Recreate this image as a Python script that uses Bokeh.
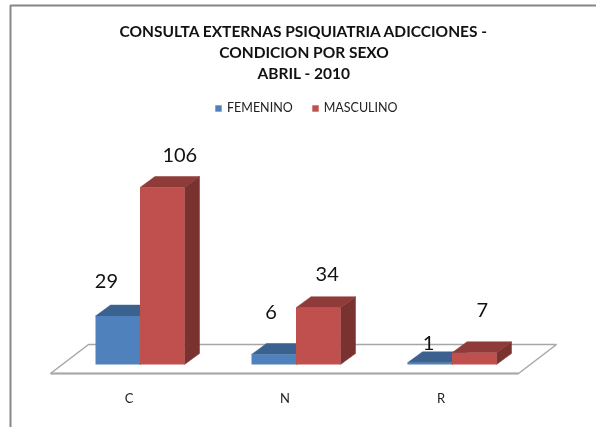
from bokeh.plotting import figure
from bokeh.models import Range1d, LinearAxis, FixedTicker, Legend, LegendItem
from bokeh.core.properties import value
from bokeh.embed import file_html
from bokeh.resources import INLINE

# data
categories = ["C", "N", "R"]
femenino = [29, 6, 1]
masculino = [106, 34, 7]
title_lines = ["CONSULTA EXTERNAS PSIQUIATRIA ADICCIONES -", "CONDICION POR SEXO", "ABRIL - 2010"]

# label placement relative to the category centre (category units) and above the bar (px)
fem_label_x = [-0.215, -0.16, -0.15]
fem_label_gap = [35, 42, 20]
mas_label_x = [0.255, 0.2, 0.195]
mas_label_gap = [32, 34, 43]

W, H = 596, 427
X0, SX = 139.5, 156.0     # px of first category, px per category
Y0, SY = 364.0, 1.67      # px of value 0, px per value
BAR = 44.5 / SX
DX, DY = 15 / SX, 11 / SY

def fx(px): return (px - X0) / SX
def fy(py): return (Y0 - py) / SY

p = figure(width=W, height=H, output_backend="svg", toolbar_location=None,
           x_range=Range1d(fx(0), fx(W)), y_range=Range1d(fy(H), fy(0)),
           min_border=0, min_border_left=0, min_border_right=0, min_border_top=0, min_border_bottom=0,
           outline_line_color=None, background_fill_color="white", border_fill_color="white")
p.styles = {"position": "fixed", "left": "0px", "top": "0px"}
p.axis.visible = False
p.grid.visible = False

# chart frame
p.line([fx(10), fx(10), fx(W)], [fy(H), fy(5), fy(5)], line_color="#868686", line_width=2)

# floor
fl_x = [fx(50), fx(518), fx(556), fx(88), fx(50)]
fl_y = [fy(373), fy(373), fy(344), fy(344), fy(373)]
p.patch(fl_x, fl_y, fill_color="white", line_color="#A6A6A6", line_width=1.5)
p.line(fl_x[:2], fl_y[:2], line_color="#ABABAB", line_width=2)

series = [("FEMENINO", femenino, -BAR, "#4F81BD", "#3B618F", "#33557E"),
          ("MASCULINO", masculino, 0.0, "#C0504D", "#8E3B39", "#7A3230")]

items = []
for name, vals, off, front, top, side in series:
    for i, v in enumerate(vals):
        l, r = i + off, i + off + BAR
        p.patch([r, r + DX, r + DX, r], [0, DY, v + DY, v], fill_color=side, line_color=side, line_width=0.5)
        p.patch([l, r, r + DX, l + DX], [v, v, v + DY, v + DY], fill_color=top, line_color=top, line_width=0.5)
    front_r = p.quad(left=[i + off for i in range(3)], right=[i + off + BAR for i in range(3)],
                     bottom=[0, 0, 0], top=vals, fill_color=front, line_color=None)
    items.append(LegendItem(label=name, renderers=[front_r]))

# data labels
lab_x = [i + d for i, d in enumerate(fem_label_x)] + [i + d for i, d in enumerate(mas_label_x)]
lab_y = [v + g / SY for v, g in zip(femenino, fem_label_gap)] + [v + g / SY for v, g in zip(masculino, mas_label_gap)]
p.text(lab_x, lab_y, text=[str(v) for v in femenino + masculino], text_font=value("Lato"),
       text_font_size="20px", text_color="#111111", text_align="center", text_baseline="middle")

# title
p.text([fx(303.5)] * 3, [fy(30), fy(51), fy(72)], text=title_lines, text_font=value("Lato"),
       text_font_style="bold", text_font_size="15.5px", text_color="#111111",
       text_align="center", text_baseline="middle")

# category axis
tick_pos = [i - 11 / SX for i in range(3)]
ax = LinearAxis(ticker=FixedTicker(ticks=tick_pos), fixed_location=fy(378),
                major_label_overrides={t: c for t, c in zip(tick_pos, categories)},
                axis_line_color=None, major_tick_line_color=None, minor_tick_line_color=None,
                major_label_text_font="Lato", major_label_text_font_size="13px",
                major_label_text_color="#222222", major_label_standoff=5)
p.add_layout(ax, "below")

# legend
leg = Legend(items=items, orientation="horizontal", location=(214, H - 115), border_line_color=None,
             background_fill_alpha=0, glyph_width=8, glyph_height=8, spacing=18, padding=4, margin=0,
             label_standoff=5, label_text_font="Lato", label_text_font_size="12.5px", label_text_color="#222222")
p.add_layout(leg, "center")

open("out.html", "w").write(file_html(p, INLINE))
